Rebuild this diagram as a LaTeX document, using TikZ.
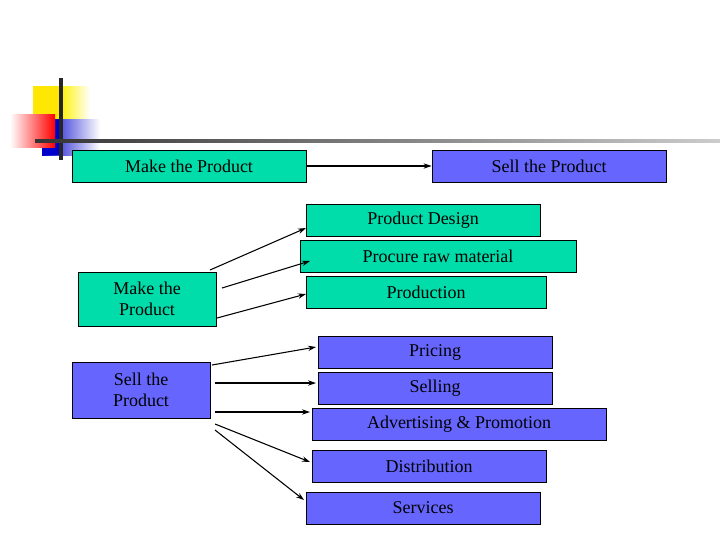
\documentclass[tikz,border=0pt]{standalone}
\usetikzlibrary{arrows.meta}
\usepackage{fontspec}
\setmainfont{Liberation Serif}
\definecolor{gbox}{RGB}{0,221,170}
\definecolor{bbox}{RGB}{102,102,255}
\tikzset{
 bx/.style={draw=black,line width=0.6pt,inner sep=0pt,font=\fontsize{13.5}{16}\selectfont,align=center},
 gr/.style={bx,fill=gbox},
 bl/.style={bx,fill=bbox},
 ar/.style={-{Stealth[length=6pt,width=4pt]},line width=0.8pt}
}
\newcommand{\bxat}[7]{\node[#1,minimum width=#4*0.75pt-#2*0.75pt,minimum height=#5*0.75pt-#3*0.75pt] (#6) at ({(#2+#4)/2*0.75pt},{-(#3+#5)/2*0.75pt}) {#7};}
\begin{document}
\begin{tikzpicture}[x=0.75pt,y=-0.75pt]
\useasboundingbox (0,0) rectangle (720,540);
\fill[yellow!90!orange] (33,86) rectangle (83,126);
\shade[left color=yellow!90!orange,right color=white] (60,86) rectangle (90,126);
\shade[left color=blue!80!black,right color=white] (42,119) rectangle (100,155);
\fill[blue!80!black] (42,119) rectangle (62,155);
\shade[left color=white,right color=red] (10,114) rectangle (55,147);
\draw[line width=2.5pt,black!85] (61,78) -- (61,160);
\shade[left color=black!80,right color=black!20] (35,139.5) rectangle (720,142.5);
\bxat{gr}{72}{150}{306}{182}{mk}{Make the Product}
\bxat{bl}{432}{150}{666}{182}{sl}{Sell the Product}
\bxat{gr}{306}{204}{540}{236}{pd}{Product Design}
\bxat{gr}{300}{240}{576}{272}{pr}{Procure raw material}
\bxat{gr}{306}{276}{546}{308}{po}{Production}
\bxat{gr}{78}{272}{216}{326}{mk2}{Make the\\Product}
\bxat{bl}{318}{336}{552}{368}{pc}{Pricing}
\bxat{bl}{72}{362}{210}{418}{sl2}{Sell the\\Product}
\bxat{bl}{318}{372}{552}{404}{se}{Selling}
\bxat{bl}{312}{408}{606}{440}{ad}{Advertising \& Promotion}
\bxat{bl}{312}{450}{546}{482}{di}{Distribution}
\bxat{bl}{306}{492}{540}{524}{sv}{Services}
\draw[ar] ([xshift=0pt]mk.east) -- (sl.west);
\draw[ar] (210,270) -- (306,228);
\draw[ar] (222,288) -- (310,261);
\draw[ar] (217,318) -- (306,294);
\draw[ar] (212,365) -- (316,347);
\draw[ar] (215,383) -- (316,383);
\draw[ar] (215,412) -- (310,412);
\draw[ar] (215,424) -- (310,462);
\draw[ar] (215,430) -- (304,500);
\end{tikzpicture}
\end{document}
